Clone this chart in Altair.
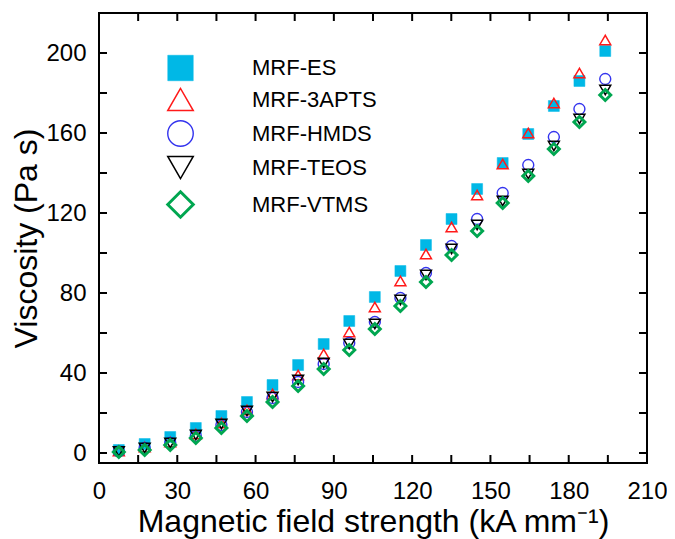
import altair as alt
import pandas as pd

# Magnetic field strength (kA/mm) shared by all series
field = [7.6, 17.5, 27.3, 37.1, 46.9, 56.7, 66.5, 76.3, 86.1, 95.9,
         105.7, 115.5, 125.3, 135.1, 144.9, 154.7, 164.5, 174.3, 184.1, 194.0]

es    = [1.5, 4.5, 8.0, 12.5, 18.5, 25.5, 34.0, 44.0, 54.5, 66.0,
         78.0, 91.0, 104.0, 117.0, 132.0, 145.0, 159.5, 173.5, 186.0, 201.0]
apts  = [1.0, 3.0, 5.5, 9.5, 15.0, 21.5, 29.5, 39.0, 49.5, 60.5,
         73.0, 86.0, 99.5, 113.0, 129.0, 144.5, 160.0, 175.0, 190.0, 206.5]
hmds  = [0.8, 2.5, 5.0, 8.5, 14.0, 20.5, 27.5, 35.5, 44.5, 55.0,
         65.5, 77.5, 90.0, 103.5, 117.0, 130.0, 144.0, 158.0, 172.0, 187.0]
teos  = [0.8, 2.5, 5.0, 9.0, 14.5, 21.0, 28.0, 36.5, 45.0, 54.5,
         64.5, 76.5, 89.0, 102.0, 114.0, 126.0, 139.5, 153.5, 167.0, 181.5]
vtms  = [0.5, 1.5, 4.0, 7.5, 12.5, 18.5, 25.5, 33.5, 42.0, 51.5,
         62.0, 73.5, 85.5, 99.0, 111.0, 125.0, 138.5, 152.0, 165.5, 179.0]

series_names = ["MRF-ES", "MRF-3APTS", "MRF-HMDS", "MRF-TEOS", "MRF-VTMS"]
x_ticks = [0, 15, 30, 45, 60, 75, 90, 105, 120, 135, 150, 165, 180, 195, 210]
y_ticks = [0, 20, 40, 60, 80, 100, 120, 140, 160, 180, 200]
x_labels = [0, 30, 60, 90, 120, 150, 180, 210]
y_labels = [0, 40, 80, 120, 160, 200]

rows = []
for name, vals in zip(series_names, [es, apts, hmds, teos, vtms]):
    for xv, v in zip(field, vals):
        rows.append({"series": name, "field": xv, "viscosity": v})
df = pd.DataFrame(rows)
xt = pd.DataFrame({"field": x_ticks})
yt = pd.DataFrame({"viscosity": y_ticks})

W, H = 548, 450
FONT = "Liberation Sans"
TL = 8

xs = alt.Scale(domain=[0, 210], nice=False, zero=False)
ys = alt.Scale(domain=[-5, 220], nice=False, zero=False)

shapes = ["square", "triangle-up", "circle", "triangle-down", "diamond"]
strokes = ["#00b8e6", "#ff1a1a", "#3333ee", "#000000", "#00a650"]
fills = ["#00b8e6", "transparent", "transparent", "transparent", "transparent"]
swidths = [0.5, 1.5, 1.4, 1.5, 3.0]

x_axis = alt.Axis(values=x_labels, title="Magnetic field strength (kA mm⁻¹)",
                  ticks=False, tickSize=0, domain=False, grid=False, labelFlush=False,
                  labelPadding=16, labelFontSize=24, titleFontSize=32,
                  titlePadding=3, labelFont=FONT, titleFont=FONT,
                  titleFontWeight="normal", labelColor="black", titleColor="black")
y_axis = alt.Axis(values=y_labels, title="Viscosity (Pa s)",
                  ticks=False, tickSize=0, domain=False, grid=False, labelFlush=False,
                  labelPadding=13, labelFontSize=24, titleFontSize=32,
                  titlePadding=2, labelFont=FONT, titleFont=FONT,
                  titleFontWeight="normal", labelColor="black", titleColor="black")

leg = alt.Legend(title=None, orient="none", legendX=67, legendY=42,
                 labelFont=FONT, labelFontSize=22, labelColor="black",
                 symbolSize=650, rowPadding=3, labelOffset=57)

points = alt.Chart(df).mark_point(opacity=1, size=120).encode(
    x=alt.X("field:Q", scale=xs, axis=x_axis),
    y=alt.Y("viscosity:Q", scale=ys, axis=y_axis),
    shape=alt.Shape("series:N", scale=alt.Scale(domain=series_names, range=shapes), legend=leg),
    stroke=alt.Stroke("series:N", scale=alt.Scale(domain=series_names, range=strokes), legend=leg),
    fill=alt.Fill("series:N", scale=alt.Scale(domain=series_names, range=fills), legend=leg),
    strokeWidth=alt.StrokeWidth("series:N", scale=alt.Scale(type="ordinal", domain=series_names, range=swidths), legend=leg),
)

tick_x = alt.X("field:Q", scale=xs, axis=x_axis)
tick_y = alt.Y("viscosity:Q", scale=ys, axis=y_axis)

bottom_ticks = alt.Chart(xt).mark_rule(color="black", strokeWidth=2).encode(
    x=tick_x, y=alt.value(H), y2=alt.value(H - TL))
top_ticks = alt.Chart(xt).mark_rule(color="black", strokeWidth=2).encode(
    x=tick_x, y=alt.value(0), y2=alt.value(TL))
left_ticks = alt.Chart(yt).mark_rule(color="black", strokeWidth=2).encode(
    y=tick_y, x=alt.value(0), x2=alt.value(TL))
right_ticks = alt.Chart(yt).mark_rule(color="black", strokeWidth=2).encode(
    y=tick_y, x=alt.value(W), x2=alt.value(W - TL))

chart = alt.layer(points, bottom_ticks, top_ticks, left_ticks, right_ticks).properties(
    width=W, height=H,
    autosize=alt.AutoSizeParams(type="none"),
    padding={"left": 91, "top": 5, "right": 20, "bottom": 76},
).configure(background="white").configure_view(stroke="black", strokeWidth=2)

chart.save("out.html", embed_options={"renderer": "svg", "actions": False})
